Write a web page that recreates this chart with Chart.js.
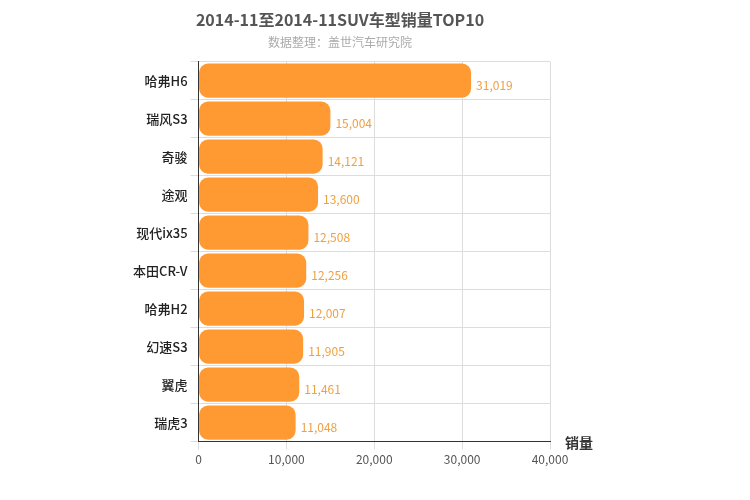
<!DOCTYPE html>
<html><head><meta charset="utf-8">
<script src="https://cdn.jsdelivr.net/npm/chart.js@4"></script>
<style>body{margin:0}#w{width:750px;height:500px}</style></head>
<body><div id="w"><canvas id="c"></canvas></div>
<script>
const categories=["哈弗H6","瑞风S3","奇骏","途观","现代ix35","本田CR-V","哈弗H2","幻速S3","翼虎","瑞虎3"];
const sales=[31019,15004,14121,13600,12508,12256,12007,11905,11461,11048];
const xTicks=[0,10000,20000,30000,40000];
const F='"Noto Sans CJK SC", sans-serif';
const extra={id:'extra',afterDatasetsDraw(ch){
 const {ctx}=ch;const m=ch.getDatasetMeta(0);
 ctx.save();ctx.font='12px '+F;ctx.fillStyle='#f0a040';ctx.textBaseline='middle';
 m.data.forEach((b,i)=>{ctx.fillText(sales[i].toLocaleString('en-US'),b.x+5,b.y+5);});
 const a=ch.chartArea;ctx.font='bold 14px '+F;ctx.fillStyle='#333';ctx.textBaseline='alphabetic';
 ctx.fillText('销量',a.right+15,a.bottom+6);
 ctx.restore();}};
new Chart(document.getElementById('c'),{type:'bar',
data:{labels:categories,datasets:[{data:sales,backgroundColor:'#ff9a33',borderRadius:9,borderSkipped:false,barPercentage:0.9,categoryPercentage:1}]},
options:{indexAxis:'y',responsive:true,maintainAspectRatio:false,animation:false,
layout:{padding:{left:130,right:200,top:4,bottom:30}},
plugins:{legend:{display:false},tooltip:{enabled:false},
 title:{display:true,text:'2014-11至2014-11SUV车型销量TOP10',font:{family:F,size:16,weight:'bold'},color:'#555',padding:{top:6,bottom:6}},
 subtitle:{display:true,text:'数据整理：盖世汽车研究院',font:{family:F,size:12},color:'#aaa',padding:{bottom:12}}},
scales:{x:{min:0,max:40000,ticks:{stepSize:10000,color:'#555',font:{family:F,size:12},callback:v=>xTicks.includes(v)?v.toLocaleString('en-US'):''},grid:{color:'#ddd'},border:{color:'#333'}},
 y:{ticks:{color:'#222',font:{family:F,size:13,weight:'500'}},grid:{color:'#ddd'},border:{color:'#333'}}}},
plugins:[extra]});
</script></body></html>
